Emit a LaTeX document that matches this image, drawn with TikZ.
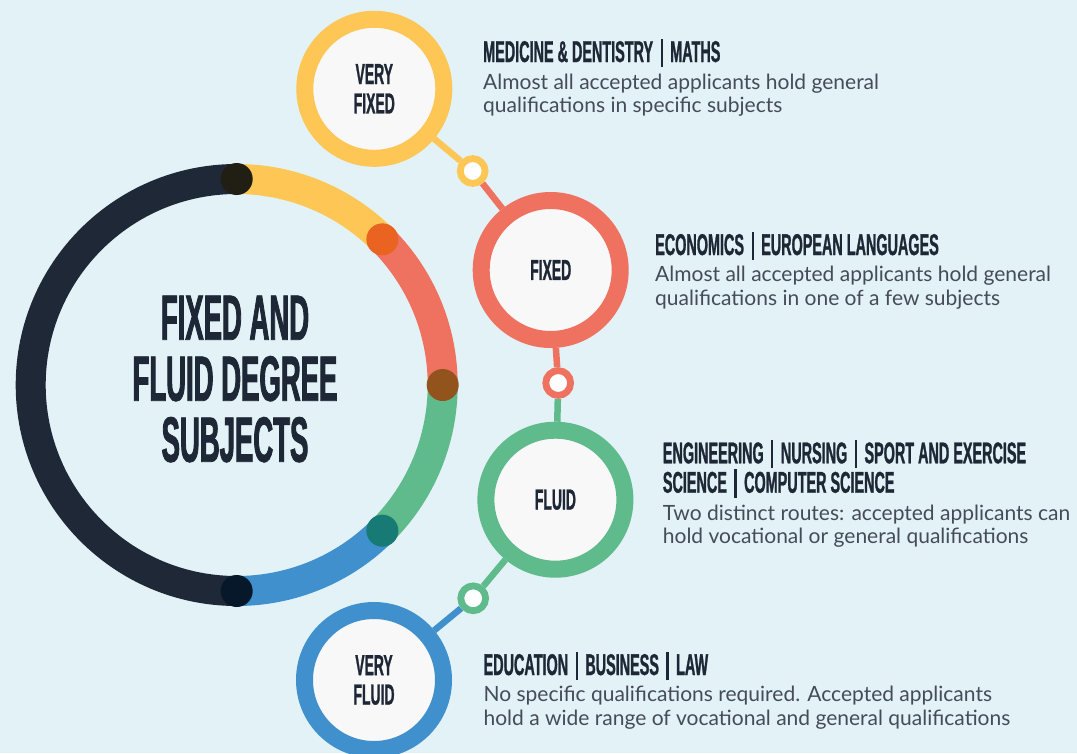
\documentclass[tikz,border=0pt]{standalone}
\usepackage{fontspec}
\setmainfont{Lato}
\newfontfamily\titlefont{Liberation Sans}[FakeStretch=0.43,FakeBold=1.3]
\newfontfamily\headfont{Liberation Sans}[FakeStretch=0.48,FakeBold=0.9]
\definecolor{bgc}{HTML}{E2F2F6}
\definecolor{navyc}{HTML}{1F2836}
\definecolor{yel}{HTML}{FDC655}
\definecolor{redc}{HTML}{EF7160}
\definecolor{grn}{HTML}{5FBA8C}
\definecolor{blu}{HTML}{4090CD}
\definecolor{innerc}{HTML}{F8F8F8}
\definecolor{txtc}{HTML}{1E2735}
\definecolor{bodyc}{HTML}{454C58}
\definecolor{dotA}{HTML}{211E13}
\definecolor{dotB}{HTML}{EB6321}
\definecolor{dotC}{HTML}{93531D}
\definecolor{dotD}{HTML}{187A75}
\definecolor{dotE}{HTML}{07182A}
\newcommand\vbar{\hspace{7.5pt}\rule[-5pt]{2.2pt}{28.5pt}\hspace{7.5pt}}
\pgfdeclarelayer{back}
\pgfdeclarelayer{bg}
\pgfsetlayers{back,bg,main}
\tikzset{
  bigc/.style={circle, minimum size=139pt, inner sep=0pt, line width=17pt, fill=innerc, draw=#1,
    text=txtc, align=center, font=\headfont\bfseries\fontsize{29}{29.4}\selectfont},
  smallc/.style={circle, minimum size=24.8pt, inner sep=0pt, line width=6.8pt, fill=white, draw=#1},
  conn/.style={line width=6.5pt, draw=#1},
  seg/.style={line width=30pt, draw=#1},
  headtxt/.style={anchor=base west, inner sep=0pt, text=txtc, font=\headfont\bfseries\fontsize{30}{29.4}\selectfont},
  bodytxt/.style={anchor=base west, inner sep=0pt, text=bodyc, font=\fontsize{21}{23.6}\selectfont}
}
\begin{document}
\begin{tikzpicture}[x=1pt,y=-1pt]
\begin{pgfonlayer}{back}
\fill[bgc] (0,0) rectangle (1077,753);
\end{pgfonlayer}
\useasboundingbox (0,0) rectangle (1077,753);

% big ring
\draw[seg=navyc] (236.7,179) arc[start angle=-90, end angle=-270, radius=206];
\draw[seg=yel] (236.7,179) arc[start angle=-90, end angle=-45, radius=206];
\draw[seg=redc] (382.36,239.34) arc[start angle=-45, end angle=0, radius=206];
\draw[seg=grn] (442.7,385) arc[start angle=0, end angle=45, radius=206];
\draw[seg=blu] (382.36,530.66) arc[start angle=45, end angle=90, radius=206];
\fill[dotA] (236.7,179) circle[radius=16];
\fill[dotB] (382.36,239.34) circle[radius=16];
\fill[dotC] (442.7,385) circle[radius=16];
\fill[dotD] (382.36,530.66) circle[radius=16];
\fill[dotE] (236.7,591) circle[radius=16];

\node[anchor=center, inner sep=0pt, text=txtc, align=center,
  font=\titlefont\bfseries\fontsize{64}{61}\selectfont] (title) at (235,379)
  {FIXED AND\\FLUID DEGREE\\SUBJECTS};

% category circles
\node[bigc=yel] (vf) at (374.3,88.8) {VERY\\FIXED};
\node[bigc=redc] (fx) at (550.7,270) {FIXED};
\node[bigc=grn] (fl) at (555.4,499.7) {FLUID};
\node[bigc=blu] (vfl) at (374,680) {VERY\\FLUID};

\node[smallc=yel] (s1) at (472.7,171) {};
\node[smallc=redc] (s2) at (558.2,383) {};
\node[smallc=grn] (s3) at (473.2,598.3) {};

\begin{pgfonlayer}{bg}
\draw[conn=yel] (vf) -- (s1);
\draw[conn=redc] (s1) -- (fx);
\draw[conn=redc] (fx) -- (s2);
\draw[conn=grn] (s2) -- (fl);
\draw[conn=grn] (fl) -- (s3);
\draw[conn=blu] (s3) -- (vfl);
\end{pgfonlayer}

% texts
\node[headtxt] (h1) at (483,62) {MEDICINE \& DENTISTRY\vbar MATHS};
\node[bodytxt] (b1) at (483,89.3) {\parbox[t]{590pt}{\raggedright Almost all accepted applicants hold general\\qualifications in specific subjects}};

\node[headtxt] (h2) at (655,255) {ECONOMICS\vbar EUROPEAN LANGUAGES};
\node[bodytxt] (b2) at (655,281.7) {\parbox[t]{420pt}{\raggedright Almost all accepted applicants hold general\\qualifications in one of a few subjects}};

\node[headtxt] (h3) at (662.7,463.3) {\parbox[t]{410pt}{\raggedright ENGINEERING\vbar NURSING\vbar SPORT AND EXERCISE\\SCIENCE\vbar COMPUTER SCIENCE}};
\node[bodytxt] (b3) at (662.7,520) {\parbox[t]{414pt}{\raggedright Two distinct routes: accepted applicants can\\hold vocational or general qualifications}};

\node[headtxt] (h4) at (483.4,675) {EDUCATION\vbar BUSINESS\vbar LAW};
\node[bodytxt] (b4) at (483.4,701.7) {\parbox[t]{590pt}{\raggedright No specific qualifications required. Accepted applicants\\hold a wide range of vocational and general qualifications}};
\end{tikzpicture}
\end{document}
